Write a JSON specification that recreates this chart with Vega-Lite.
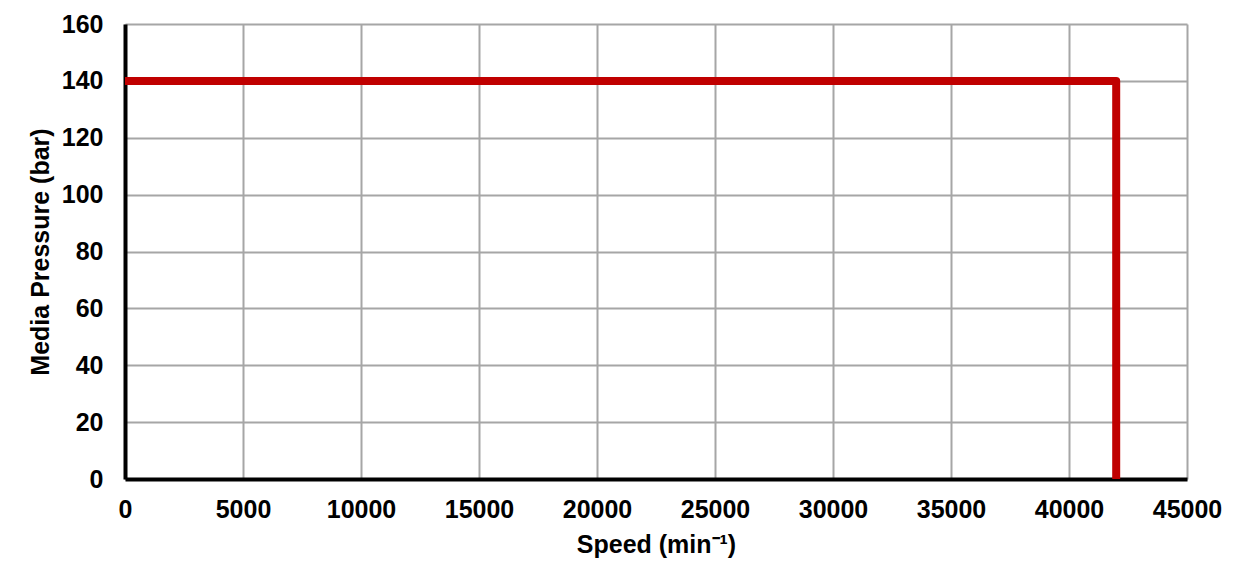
{
  "$schema": "https://vega.github.io/schema/vega-lite/v6.json",
  "description": "Media pressure versus speed",
  "autosize": {"type": "none"},
  "padding": {"left": 125, "top": 24, "right": 56, "bottom": 105},
  "width": 1062,
  "height": 455,
  "background": "white",
  "config": {
    "view": {"stroke": null},
    "font": "Liberation Sans",
    "axis": {
      "labelFont": "Liberation Sans",
      "labelFontSize": 25,
      "labelFontWeight": "bold",
      "labelColor": "black",
      "titleFont": "Liberation Sans",
      "titleFontSize": 25,
      "titleFontWeight": "bold",
      "titleColor": "black",
      "domainColor": "black",
      "domainWidth": 4,
      "gridColor": "#A6A6A6",
      "gridWidth": 2,
      "ticks": false
    }
  },
  "data": {
    "values": [
      {"step": 1, "speed": 0, "pressure": 140},
      {"step": 2, "speed": 42000, "pressure": 140},
      {"step": 3, "speed": 42000, "pressure": 0}
    ]
  },
  "mark": {"type": "line", "color": "#C00000", "strokeWidth": 8, "strokeJoin": "round", "clip": false},
  "encoding": {
    "x": {
      "field": "speed",
      "type": "quantitative",
      "scale": {"domain": [0, 45000], "nice": false},
      "axis": {"values": [0, 5000, 10000, 15000, 20000, 25000, 30000, 35000, 40000, 45000], "format": "d", "labelPadding": 18, "title": "Speed (min⁻¹)", "titlePadding": 10, "labelFlush": false}
    },
    "y": {
      "field": "pressure",
      "type": "quantitative",
      "scale": {"domain": [0, 160], "nice": false},
      "axis": {"values": [0, 20, 40, 60, 80, 100, 120, 140, 160], "labelPadding": 22, "title": "Media Pressure (bar)", "titlePadding": 8}
    },
    "order": {"field": "step", "type": "quantitative"}
  }
}
